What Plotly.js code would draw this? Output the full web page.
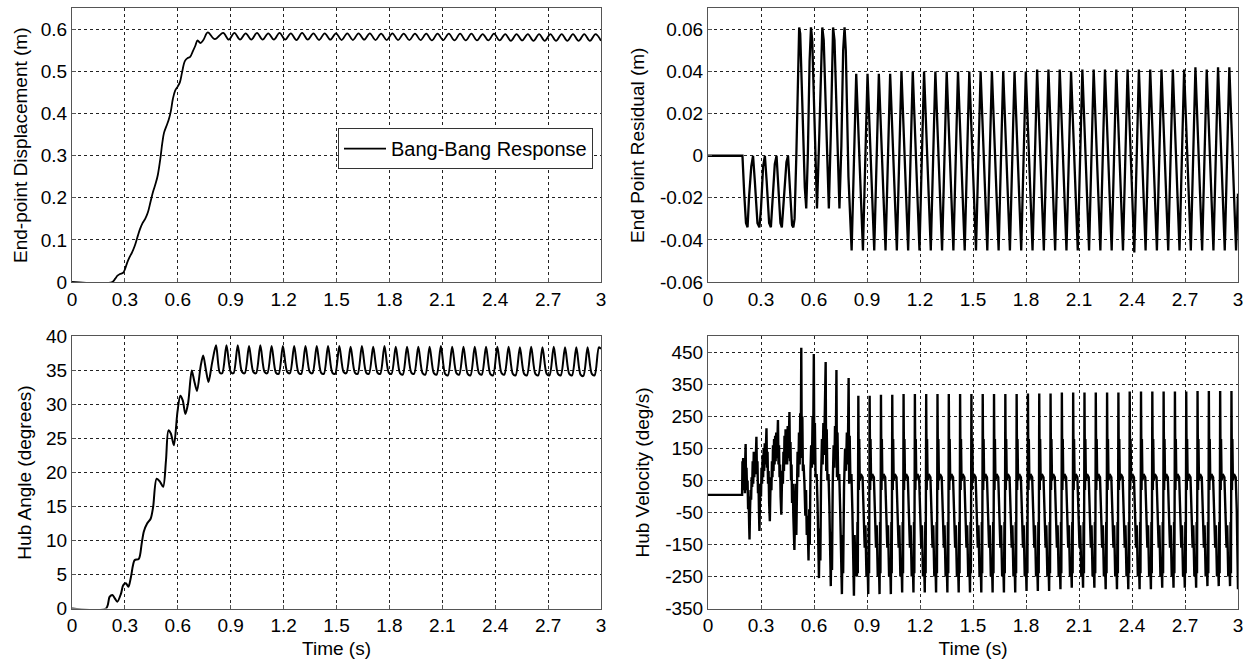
<!DOCTYPE html>
<html>
<head>
<meta charset="utf-8">
<script src="https://cdn.plot.ly/plotly-3.0.1.min.js"></script>
<style>html,body{margin:0;padding:0;background:#fff;}#chart{width:1250px;height:662px;}</style>
</head>
<body>
<div id="chart"></div>
<script>
// ---------- tick labels ----------
const xTickVals = [0, 0.3, 0.6, 0.9, 1.2, 1.5, 1.8, 2.1, 2.4, 2.7, 3];
const xTickText = ["0", "0.3", "0.6", "0.9", "1.2", "1.5", "1.8", "2.1", "2.4", "2.7", "3"];
const dispTickVals = [0, 0.1, 0.2, 0.3, 0.4, 0.5, 0.6];
const dispTickText = ["0", "0.1", "0.2", "0.3", "0.4", "0.5", "0.6"];
const resTickVals = [-0.06, -0.04, -0.02, 0, 0.02, 0.04, 0.06];
const resTickText = ["-0.06", "-0.04", "-0.02", "0", "0.02", "0.04", "0.06"];
const angTickVals = [0, 5, 10, 15, 20, 25, 30, 35, 40];
const angTickText = ["0", "5", "10", "15", "20", "25", "30", "35", "40"];
const velTickVals = [-350, -250, -150, -50, 50, 150, 250, 350, 450];
const velTickText = ["-350", "-250", "-150", "-50", "50", "150", "250", "350", "450"];

// ---------- End-point displacement (m) ----------
const dispT = [0, 0.228, 0.245, 0.258, 0.272, 0.29, 0.3, 0.312, 0.325, 0.34, 0.355, 0.37, 0.385, 0.4, 0.415, 0.43, 0.445, 0.46, 0.475, 0.487, 0.5, 0.512, 0.522, 0.535, 0.548, 0.56, 0.572, 0.585, 0.6, 0.612, 0.625, 0.64, 0.655, 0.67, 0.685, 0.7, 0.712, 0.728, 0.745, 0.77, 0.81,
  0.857, 0.889, 0.921, 0.953, 0.985, 1.017, 1.049, 1.081, 1.113, 1.145, 1.177, 1.209, 1.241, 1.273, 1.305, 1.337, 1.369, 1.401, 1.433, 1.465, 1.497, 1.529, 1.561, 1.593, 1.625, 1.657, 1.689, 1.721, 1.753, 1.785, 1.817, 1.849, 1.881, 1.913, 1.945, 1.977, 2.009, 2.041, 2.073, 2.105, 2.137, 2.169, 2.201, 2.233, 2.265, 2.297, 2.329, 2.361, 2.393, 2.425, 2.457, 2.489, 2.521, 2.553, 2.585, 2.617, 2.649, 2.681, 2.713, 2.745, 2.777, 2.809, 2.841, 2.873, 2.905, 2.937, 2.969, 3.0];
const dispV = [0, 0, 0.008, 0.015, 0.019, 0.022, 0.03, 0.045, 0.058, 0.07, 0.085, 0.105, 0.125, 0.14, 0.15, 0.165, 0.19, 0.215, 0.235, 0.255, 0.29, 0.33, 0.355, 0.37, 0.385, 0.405, 0.435, 0.455, 0.465, 0.475, 0.5, 0.525, 0.532, 0.535, 0.548, 0.562, 0.574, 0.568, 0.575, 0.593, 0.577,
  0.592, 0.576, 0.592, 0.576, 0.591, 0.576, 0.592, 0.576, 0.591, 0.576, 0.592, 0.576, 0.591, 0.575, 0.592, 0.576, 0.591, 0.575, 0.591, 0.576, 0.591, 0.575, 0.591, 0.575, 0.591, 0.576, 0.591, 0.575, 0.590, 0.575, 0.591, 0.575, 0.590, 0.575, 0.590, 0.575, 0.590, 0.574, 0.590, 0.575, 0.590, 0.574, 0.590, 0.574, 0.590, 0.574, 0.589, 0.574, 0.590, 0.574, 0.589, 0.573, 0.589, 0.574, 0.589, 0.573, 0.589, 0.573, 0.589, 0.573, 0.589, 0.573, 0.589, 0.573, 0.589, 0.573, 0.589, 0.573];

// ---------- End point residual (m) ----------
const resT = [0, 0.195, 0.205, 0.215, 0.224, 0.232, 0.245, 0.255, 0.265, 0.28, 0.291, 0.3, 0.312, 0.322, 0.332, 0.346, 0.356, 0.366, 0.378, 0.388, 0.398, 0.41, 0.418, 0.43, 0.444, 0.453, 0.463, 0.476, 0.483, 0.49, 0.5, 0.51, 0.516, 0.522, 0.535, 0.548, 0.556, 0.565, 0.575, 0.583, 0.59, 0.605, 0.617, 0.63, 0.64, 0.647, 0.655, 0.67, 0.684, 0.695, 0.703, 0.708, 0.716, 0.73, 0.744, 0.755, 0.765, 0.773, 0.78, 0.795, 0.813,
  0.839, 0.877, 0.903, 0.941, 0.967, 1.005, 1.031, 1.069, 1.095, 1.133, 1.159, 1.197, 1.223, 1.261, 1.287, 1.325, 1.351, 1.389, 1.415, 1.453, 1.479, 1.517, 1.543, 1.581, 1.607, 1.645, 1.671, 1.709, 1.735, 1.773, 1.799, 1.837, 1.863, 1.901, 1.927, 1.965, 1.991, 2.029, 2.055, 2.093, 2.119, 2.157, 2.183, 2.221, 2.247, 2.285, 2.311, 2.349, 2.375, 2.413, 2.439, 2.477, 2.503, 2.541, 2.567, 2.605, 2.631, 2.669, 2.695, 2.733, 2.759, 2.797, 2.823, 2.861, 2.887, 2.925, 2.951, 2.989, 3.0];
const resV = [0, 0, -0.018, -0.032, -0.034, -0.02, -0.005, 0, -0.012, -0.032, -0.034, -0.025, -0.005, 0, -0.012, -0.032, -0.034, -0.022, -0.004, 0, -0.014, -0.032, -0.034, -0.02, -0.003, 0, -0.015, -0.033, -0.034, -0.03, 0, 0.04, 0.061, 0.058, 0.02, -0.015, -0.025, 0, 0.045, 0.061, 0.055, 0.01, -0.025, 0.01, 0.048, 0.061, 0.055, 0.01, -0.025, 0.01, 0.05, 0.061, 0.055, 0.01, -0.025, 0.005, 0.05, 0.061, 0.05, -0.01, -0.045,
  0.039, -0.045, 0.039, -0.045, 0.039, -0.045, 0.039, -0.045, 0.040, -0.045, 0.040, -0.045, 0.040, -0.045, 0.040, -0.045, 0.040, -0.045, 0.040, -0.045, 0.040, -0.045, 0.040, -0.045, 0.040, -0.045, 0.040, -0.045, 0.040, -0.045, 0.040, -0.045, 0.041, -0.045, 0.041, -0.045, 0.041, -0.045, 0.040, -0.045, 0.041, -0.045, 0.041, -0.045, 0.041, -0.045, 0.041, -0.045, 0.041, -0.046, 0.041, -0.045, 0.041, -0.045, 0.041, -0.045, 0.041, -0.045, 0.041, -0.045, 0.042, -0.045, 0.041, -0.045, 0.042, -0.045, 0.042, -0.045, -0.018];

// ---------- Hub angle (degrees) ----------
const angT = [0, 0.193, 0.213, 0.229, 0.243, 0.257, 0.278, 0.29, 0.306, 0.32, 0.334, 0.355, 0.379, 0.395, 0.407, 0.426, 0.446, 0.46, 0.48, 0.5, 0.517, 0.533, 0.547, 0.561, 0.578, 0.598, 0.614, 0.628, 0.643, 0.659, 0.679, 0.693, 0.709, 0.73, 0.744, 0.76, 0.774, 0.795, 0.817, 0.838, 0.852,
  0.876, 0.900, 0.916, 0.940, 0.964, 0.980, 1.004, 1.028, 1.044, 1.068, 1.092, 1.108, 1.132, 1.156, 1.172, 1.196, 1.220, 1.236, 1.260, 1.284, 1.300, 1.324, 1.348, 1.364, 1.388, 1.412, 1.428, 1.452, 1.476, 1.492, 1.516, 1.540, 1.556, 1.580, 1.604, 1.620, 1.644, 1.668, 1.684, 1.708, 1.732, 1.748, 1.772, 1.796, 1.812, 1.836, 1.860, 1.876, 1.900, 1.924, 1.940, 1.964, 1.988, 2.004, 2.028, 2.052, 2.068, 2.092, 2.116, 2.132, 2.156, 2.180, 2.196, 2.220, 2.244, 2.260, 2.284, 2.308, 2.324, 2.348, 2.372, 2.388, 2.412, 2.436, 2.452, 2.476, 2.500, 2.516, 2.540, 2.564, 2.580, 2.604, 2.628, 2.644, 2.668, 2.692, 2.708, 2.732, 2.756, 2.772, 2.796, 2.820, 2.836, 2.860, 2.884, 2.900, 2.924, 2.948, 2.964, 2.988, 3.0];
const angV = [0, 0, 1.7, 2.0, 1.5, 1.0, 2.2, 3.4, 3.7, 3.2, 4.6, 7.1, 7.3, 9.5, 11.3, 12.5, 13.2, 14.9, 19.1, 18.6, 17.9, 21.8, 26.2, 25.7, 24.0, 28.9, 31.3, 30.6, 28.6, 30.3, 35.0, 33.5, 32.0, 35.7, 37.2, 35.0, 33.3, 36.2, 38.7, 34.7, 34.6,
  38.7, 34.8, 34.6, 38.7, 34.8, 34.6, 38.6, 34.8, 34.6, 38.7, 34.8, 34.6, 38.6, 34.7, 34.5, 38.6, 34.8, 34.6, 38.6, 34.7, 34.5, 38.6, 34.8, 34.6, 38.6, 34.7, 34.5, 38.6, 34.7, 34.5, 38.6, 34.8, 34.6, 38.5, 34.7, 34.5, 38.6, 34.7, 34.5, 38.5, 34.7, 34.5, 38.6, 34.7, 34.5, 38.5, 34.6, 34.4, 38.5, 34.7, 34.5, 38.5, 34.6, 34.4, 38.5, 34.6, 34.4, 38.6, 34.5, 34.3, 38.5, 34.6, 34.4, 38.5, 34.5, 34.3, 38.5, 34.6, 34.4, 38.5, 34.5, 34.3, 38.5, 34.6, 34.4, 38.5, 34.5, 34.3, 38.4, 34.5, 34.3, 38.5, 34.5, 34.3, 38.4, 34.5, 34.3, 38.5, 34.5, 34.3, 38.4, 34.5, 34.3, 38.4, 34.4, 34.2, 38.4, 34.5, 34.3, 38.4, 38.2];

// ---------- Hub velocity (deg/s) ----------
const velT = [0, 0.193, 0.195, 0.197, 0.199, 0.201, 0.203, 0.205, 0.207, 0.209, 0.211, 0.213, 0.215, 0.218, 0.221, 0.224, 0.227, 0.230, 0.233, 0.235, 0.238, 0.241, 0.244, 0.247, 0.250, 0.253, 0.256, 0.259, 0.262, 0.265, 0.268, 0.271, 0.274, 0.277, 0.280, 0.283, 0.286, 0.289, 0.291, 0.294, 0.297, 0.300, 0.303, 0.306, 0.309, 0.312, 0.315, 0.318, 0.321, 0.325, 0.328, 0.331, 0.334, 0.337, 0.340, 0.343, 0.346, 0.350, 0.353, 0.356, 0.359, 0.362, 0.365, 0.368, 0.371, 0.374, 0.377, 0.380, 0.383, 0.386, 0.390, 0.393, 0.396, 0.399, 0.402, 0.405, 0.408, 0.411, 0.415, 0.418, 0.421, 0.424, 0.427, 0.430, 0.433, 0.436, 0.439, 0.442, 0.445, 0.448, 0.451, 0.455, 0.458, 0.461, 0.464, 0.467, 0.470, 0.473, 0.476, 0.480, 0.483, 0.486, 0.489, 0.492, 0.495,
  0.500, 0.503, 0.507, 0.511, 0.515, 0.519, 0.522, 0.525, 0.528, 0.531, 0.534, 0.537, 0.541, 0.546, 0.551, 0.555, 0.559, 0.563, 0.569, 0.573, 0.576, 0.580, 0.584, 0.588, 0.592, 0.595, 0.599, 0.602, 0.605, 0.609, 0.615, 0.620, 0.625, 0.628, 0.632, 0.636, 0.640, 0.645, 0.649, 0.653, 0.657, 0.662, 0.666, 0.669, 0.672, 0.676, 0.682, 0.687, 0.691, 0.695, 0.699, 0.702, 0.706, 0.711, 0.715, 0.719, 0.723, 0.727, 0.730, 0.733, 0.737, 0.743, 0.748, 0.753, 0.758, 0.762, 0.765, 0.770, 0.776, 0.781, 0.786, 0.791, 0.796, 0.799, 0.802, 0.806, 0.812, 0.817, 0.821, 0.826, 0.830, 0.834,
  0.843, 0.846, 0.848, 0.850, 0.851, 0.854, 0.856, 0.859, 0.865, 0.875, 0.881, 0.887, 0.891, 0.897, 0.903,
  0.907, 0.910, 0.912, 0.914, 0.915, 0.918, 0.920, 0.923, 0.929, 0.939, 0.945, 0.951, 0.955, 0.961, 0.967,
  0.971, 0.974, 0.976, 0.978, 0.979, 0.982, 0.984, 0.987, 0.993, 1.003, 1.009, 1.015, 1.019, 1.025, 1.031,
  1.035, 1.038, 1.040, 1.042, 1.043, 1.046, 1.048, 1.051, 1.057, 1.067, 1.073, 1.079, 1.083, 1.089, 1.095,
  1.099, 1.102, 1.104, 1.106, 1.107, 1.110, 1.112, 1.115, 1.121, 1.131, 1.137, 1.143, 1.147, 1.153, 1.159,
  1.163, 1.166, 1.168, 1.170, 1.171, 1.174, 1.176, 1.179, 1.185, 1.195, 1.201, 1.207, 1.211, 1.217, 1.223,
  1.227, 1.230, 1.232, 1.234, 1.235, 1.238, 1.240, 1.243, 1.249, 1.259, 1.265, 1.271, 1.275, 1.281, 1.287,
  1.291, 1.294, 1.296, 1.298, 1.299, 1.302, 1.304, 1.307, 1.313, 1.323, 1.329, 1.335, 1.339, 1.345, 1.351,
  1.355, 1.358, 1.360, 1.362, 1.363, 1.366, 1.368, 1.371, 1.377, 1.387, 1.393, 1.399, 1.403, 1.409, 1.415,
  1.419, 1.422, 1.424, 1.426, 1.427, 1.430, 1.432, 1.435, 1.441, 1.451, 1.457, 1.463, 1.467, 1.473, 1.479,
  1.483, 1.486, 1.488, 1.490, 1.491, 1.494, 1.496, 1.499, 1.505, 1.515, 1.521, 1.527, 1.531, 1.537, 1.543,
  1.547, 1.550, 1.552, 1.554, 1.555, 1.558, 1.560, 1.563, 1.569, 1.579, 1.585, 1.591, 1.595, 1.601, 1.607,
  1.611, 1.614, 1.616, 1.618, 1.619, 1.622, 1.624, 1.627, 1.633, 1.643, 1.649, 1.655, 1.659, 1.665, 1.671,
  1.675, 1.678, 1.680, 1.682, 1.683, 1.686, 1.688, 1.691, 1.697, 1.707, 1.713, 1.719, 1.723, 1.729, 1.735,
  1.739, 1.742, 1.744, 1.746, 1.747, 1.750, 1.752, 1.755, 1.761, 1.771, 1.777, 1.783, 1.787, 1.793, 1.799,
  1.803, 1.806, 1.808, 1.810, 1.811, 1.814, 1.816, 1.819, 1.825, 1.835, 1.841, 1.847, 1.851, 1.857, 1.863,
  1.867, 1.870, 1.872, 1.874, 1.875, 1.878, 1.880, 1.883, 1.889, 1.899, 1.905, 1.911, 1.915, 1.921, 1.927,
  1.931, 1.934, 1.936, 1.938, 1.939, 1.942, 1.944, 1.947, 1.953, 1.963, 1.969, 1.975, 1.979, 1.985, 1.991,
  1.995, 1.998, 2.000, 2.002, 2.003, 2.006, 2.008, 2.011, 2.017, 2.027, 2.033, 2.039, 2.043, 2.049, 2.055,
  2.059, 2.062, 2.064, 2.066, 2.067, 2.070, 2.072, 2.075, 2.081, 2.091, 2.097, 2.103, 2.107, 2.113, 2.119,
  2.123, 2.126, 2.128, 2.130, 2.131, 2.134, 2.136, 2.139, 2.145, 2.155, 2.161, 2.167, 2.171, 2.177, 2.183,
  2.187, 2.190, 2.192, 2.194, 2.195, 2.198, 2.200, 2.203, 2.209, 2.219, 2.225, 2.231, 2.235, 2.241, 2.247,
  2.251, 2.254, 2.256, 2.258, 2.259, 2.262, 2.264, 2.267, 2.273, 2.283, 2.289, 2.295, 2.299, 2.305, 2.311,
  2.315, 2.318, 2.320, 2.322, 2.323, 2.326, 2.328, 2.331, 2.337, 2.347, 2.353, 2.359, 2.363, 2.369, 2.375,
  2.379, 2.382, 2.384, 2.386, 2.387, 2.390, 2.392, 2.395, 2.401, 2.411, 2.417, 2.423, 2.427, 2.433, 2.439,
  2.443, 2.446, 2.448, 2.450, 2.451, 2.454, 2.456, 2.459, 2.465, 2.475, 2.481, 2.487, 2.491, 2.497, 2.503,
  2.507, 2.510, 2.512, 2.514, 2.515, 2.518, 2.520, 2.523, 2.529, 2.539, 2.545, 2.551, 2.555, 2.561, 2.567,
  2.571, 2.574, 2.576, 2.578, 2.579, 2.582, 2.584, 2.587, 2.593, 2.603, 2.609, 2.615, 2.619, 2.625, 2.631,
  2.635, 2.638, 2.640, 2.642, 2.643, 2.646, 2.648, 2.651, 2.657, 2.667, 2.673, 2.679, 2.683, 2.689, 2.695,
  2.699, 2.702, 2.704, 2.706, 2.707, 2.710, 2.712, 2.715, 2.721, 2.731, 2.737, 2.743, 2.747, 2.753, 2.759,
  2.763, 2.766, 2.768, 2.770, 2.771, 2.774, 2.776, 2.779, 2.785, 2.795, 2.801, 2.807, 2.811, 2.817, 2.823,
  2.827, 2.830, 2.832, 2.834, 2.835, 2.838, 2.840, 2.843, 2.849, 2.859, 2.865, 2.871, 2.875, 2.881, 2.887,
  2.891, 2.894, 2.896, 2.898, 2.899, 2.902, 2.904, 2.907, 2.913, 2.923, 2.929, 2.935, 2.939, 2.945, 2.951,
  2.955, 2.958, 2.960, 2.962, 2.963, 2.966, 2.968, 2.971, 2.977, 2.987, 2.993, 3.0];
const velV = [5, 5, 110, 40, 120, 30, 110, 20, 100, 10, 120, 164, 60, 90, 20, 50, -40, 0, -90, -134, -40, 20, -10, 60, 30, 110, 40, 140, 60, 130, 70, 150, 187, 70, 110, 10, 40, -60, -108, -20, 40, 0, 90, 40, 130, 60, 150, 80, 166, 100, 190, 213, 90, 140, 40, 80, -20, -77, 10, 60, 20, 110, 60, 160, 80, 180, 100, 190, 110, 200, 120, 210, 239, 100, 160, 60, 100, 0, -57, 30, 80, 40, 140, 80, 190, 100, 210, 120, 150, 100, 220, 120, 240, 264, 110, 170, 50, 100, -20, 40, -60, -120, -167, -80, 40,
  -120, 60, 140, 60, 200, 100, 260, 150, 465, 120, 250, 80, 100, 40, -60, 20, -120, -60, -200, -40, -150, 80, 160, 90, 250, 140, 445, 100, 230, 60, 70, -20, -120, -255, -100, -200, 60, 180, 100, 230, 130, 260, 420, 80, 210, 50, 70, -30, -150, -280, -110, -230, 40, 160, 90, 220, 120, 395, 60, 200, 50, 70, -40, -160, -305, -120, -240, 30, 150, 80, 200, 100, 370, 40, 190, 50, 70, -40, -160, -310, -120, -230,
  -250, -80, -240, 100, 315, 20, 180, 50, 70, 60, -40, -160, -90, -250, -200,
  -305, -80, -240, 100, 315, 20, 180, 50, 70, 60, -40, -160, -90, -250, -200,
  -305, -80, -240, 100, 318, 20, 180, 50, 70, 60, -40, -160, -90, -250, -200,
  -305, -80, -240, 100, 318, 20, 180, 50, 70, 60, -40, -160, -90, -250, -200,
  -300, -80, -240, 100, 320, 20, 180, 50, 70, 60, -40, -160, -90, -250, -200,
  -300, -80, -240, 100, 320, 20, 180, 50, 70, 60, -40, -160, -90, -250, -200,
  -300, -80, -240, 100, 320, 20, 180, 50, 70, 60, -40, -160, -90, -250, -200,
  -300, -80, -240, 100, 320, 20, 180, 50, 70, 60, -40, -160, -90, -250, -200,
  -300, -80, -240, 100, 320, 20, 180, 50, 70, 60, -40, -160, -90, -250, -200,
  -300, -80, -240, 100, 320, 20, 180, 50, 70, 60, -40, -160, -90, -250, -200,
  -300, -80, -240, 100, 320, 20, 180, 50, 70, 60, -40, -160, -90, -250, -200,
  -300, -80, -240, 100, 320, 20, 180, 50, 70, 60, -40, -160, -90, -250, -200,
  -300, -80, -240, 100, 320, 20, 180, 50, 70, 60, -40, -160, -90, -250, -200,
  -300, -80, -240, 100, 320, 20, 180, 50, 70, 60, -40, -160, -90, -250, -200,
  -300, -80, -240, 100, 320, 20, 180, 50, 70, 60, -40, -160, -90, -250, -200,
  -295, -80, -240, 100, 322, 20, 180, 50, 70, 60, -40, -160, -90, -250, -200,
  -295, -80, -240, 100, 322, 20, 180, 50, 70, 60, -40, -160, -90, -250, -200,
  -295, -80, -240, 100, 322, 20, 180, 50, 70, 60, -40, -160, -90, -250, -200,
  -290, -80, -240, 100, 325, 20, 180, 50, 70, 60, -40, -160, -90, -250, -200,
  -285, -80, -240, 100, 325, 20, 180, 50, 70, 60, -40, -160, -90, -250, -200,
  -285, -80, -240, 100, 325, 20, 180, 50, 70, 60, -40, -160, -90, -250, -200,
  -285, -80, -240, 100, 325, 20, 180, 50, 70, 60, -40, -160, -90, -250, -200,
  -290, -80, -240, 100, 325, 20, 180, 50, 70, 60, -40, -160, -90, -250, -200,
  -290, -80, -240, 100, 325, 20, 180, 50, 70, 60, -40, -160, -90, -250, -200,
  -290, -80, -240, 100, 328, 20, 180, 50, 70, 60, -40, -160, -90, -250, -200,
  -290, -80, -240, 100, 328, 20, 180, 50, 70, 60, -40, -160, -90, -250, -200,
  -290, -80, -240, 100, 328, 20, 180, 50, 70, 60, -40, -160, -90, -250, -200,
  -285, -80, -240, 100, 328, 20, 180, 50, 70, 60, -40, -160, -90, -250, -200,
  -285, -80, -240, 100, 328, 20, 180, 50, 70, 60, -40, -160, -90, -250, -200,
  -285, -80, -240, 100, 328, 20, 180, 50, 70, 60, -40, -160, -90, -250, -200,
  -285, -80, -240, 100, 330, 20, 180, 50, 70, 60, -40, -160, -90, -250, -200,
  -280, -80, -240, 100, 330, 20, 180, 50, 70, 60, -40, -160, -90, -250, -200,
  -280, -80, -240, 100, 330, 20, 180, 50, 70, 60, -40, -160, -90, -250, -200,
  -280, -80, -240, 100, 330, 20, 180, 50, 70, 60, -40, -290];

// ---------- plot ----------
const traces = [
  {x: dispT, y: dispV, xaxis: "x", yaxis: "y", type: "scatter", mode: "lines", line: {color: "#000", width: 1.8, shape: "spline"}, name: "Bang-Bang Response", showlegend: true},
  {x: resT, y: resV, xaxis: "x2", yaxis: "y2", type: "scatter", mode: "lines", line: {color: "#000", width: 2.3}, showlegend: false},
  {x: angT, y: angV, xaxis: "x3", yaxis: "y3", type: "scatter", mode: "lines", line: {color: "#000", width: 2, shape: "spline", smoothing: 0.8}, showlegend: false},
  {x: velT, y: velV, xaxis: "x4", yaxis: "y4", type: "scatter", mode: "lines", line: {color: "#000", width: 2.4}, showlegend: false}
];

const FONT = "Liberation Sans, Arial, Helvetica, sans-serif";
function axisBase(extra) {
  return Object.assign({
    showgrid: true, gridcolor: "#222", gridwidth: 1, griddash: "3px,3px",
    showline: true, linecolor: "#555", linewidth: 1, mirror: true,
    ticks: "inside", ticklen: 4, tickcolor: "#555",
    zeroline: false, tickfont: {family: FONT, size: 19, color: "#000"},
    fixedrange: true
  }, extra);
}
const xL = [0.0576, 0.4808], xR = [0.5664, 0.9904];
const yT = [0.5740, 0.9872], yB = [0.0808, 0.4917];
const titleFont = {family: FONT, size: 19, color: "#000"};

const layout = {
  width: 1250, height: 662,
  margin: {l: 0, r: 0, t: 0, b: 0},
  paper_bgcolor: "#fff", plot_bgcolor: "#fff",
  font: {family: FONT, color: "#000"},
  showlegend: true,
  legend: {x: 0.2704, y: 0.8066, xanchor: "left", yanchor: "top", bgcolor: "#fff", bordercolor: "#333", borderwidth: 1, itemwidth: 42, font: {family: FONT, size: 20, color: "#000"}},
  xaxis: axisBase({domain: xL, anchor: "y", range: [0, 3], tickvals: xTickVals, ticktext: xTickText}),
  yaxis: axisBase({domain: yT, anchor: "x", range: [0, 0.65], tickvals: dispTickVals, ticktext: dispTickText, title: {text: "End-point Displacement (m)", font: titleFont, standoff: 8}}),
  xaxis2: axisBase({domain: xR, anchor: "y2", range: [0, 3], tickvals: xTickVals, ticktext: xTickText}),
  yaxis2: axisBase({domain: yT, anchor: "x2", range: [-0.06, 0.07], tickvals: resTickVals, ticktext: resTickText, title: {text: "End Point Residual (m)", font: titleFont, standoff: 10}}),
  xaxis3: axisBase({domain: xL, anchor: "y3", range: [0, 3], tickvals: xTickVals, ticktext: xTickText, title: {text: "Time (s)", font: titleFont, standoff: 6}}),
  yaxis3: axisBase({domain: yB, anchor: "x3", range: [0, 40], tickvals: angTickVals, ticktext: angTickText, title: {text: "Hub Angle (degrees)", font: titleFont, standoff: 9}}),
  xaxis4: axisBase({domain: xR, anchor: "y4", range: [0, 3], tickvals: xTickVals, ticktext: xTickText, title: {text: "Time (s)", font: titleFont, standoff: 6}}),
  yaxis4: axisBase({domain: yB, anchor: "x4", range: [-350, 500], tickvals: velTickVals, ticktext: velTickText, title: {text: "Hub Velocity (deg/s)", font: titleFont, standoff: 10}})
};

Plotly.newPlot("chart", traces, layout, {displayModeBar: false, staticPlot: true});
</script>
</body>
</html>
